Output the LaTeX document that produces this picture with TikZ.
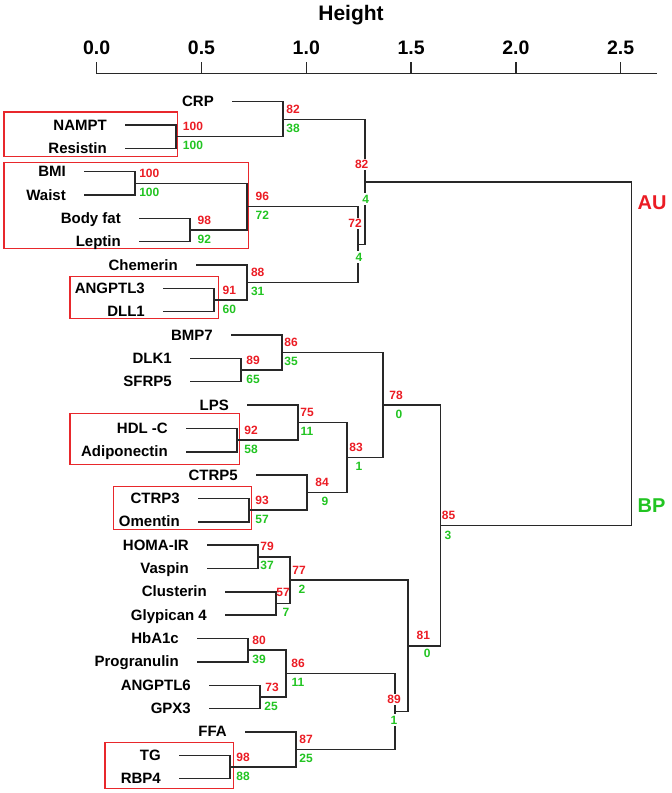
\documentclass[tikz,border=0pt]{standalone}
\usepackage{fontspec}
\setmainfont{Liberation Sans}
\definecolor{lred}{RGB}{235,28,36}
\definecolor{lgreen}{RGB}{34,196,34}
\definecolor{boxred}{RGB}{232,40,44}
\definecolor{linec}{RGB}{40,40,40}
\newcommand\dleaf[4]{%
  \coordinate (#1) at ({#4-50},#3);
  \node[leaflab] (#1t) at ({#4-69},{#3+5}) {#2};
}
\begin{document}
\begin{tikzpicture}[x=1pt,y=-1pt,
  tree/.style={draw=linec, line width=1.4pt, line cap=rect},
  leaflab/.style={anchor=base east, inner sep=0pt, font=\fontsize{15}{18}\selectfont\bfseries},
  aulab/.style={text=lred, inner sep=0pt, font=\fontsize{12}{14}\selectfont\bfseries},
  bplab/.style={text=lgreen, inner sep=0pt, font=\fontsize{12}{14}\selectfont\bfseries},
  mask/.style={fill=white, inner sep=1.5pt},
  clbox/.style={draw=boxred, line width=1.3pt},
  ticklab/.style={inner sep=0pt, font=\fontsize{19.5}{22}\selectfont\bfseries},
  grouplab/.style={inner sep=0pt, font=\fontsize{20}{24}\selectfont\bfseries}]
\useasboundingbox (0,0) rectangle (672,793);

% axis
\node[anchor=base, inner sep=0pt, font=\fontsize{21}{24}\selectfont\bfseries] (title) at (351,20) {Height};
\coordinate (ax0) at (96.7,73.3);
\coordinate (ax1) at (656,73.3);
\draw[tree] (ax0) -- (ax1);
\foreach \v/\lab [count=\i] in {0/0.0,0.5/0.5,1/1.0,1.5/1.5,2/2.0,2.5/2.5}{
  \coordinate (tk\i) at ({96.7+209.6*\v},73.3);
  \draw[tree] (tk\i) -- ++(0,-10.6);
  \node[ticklab] (tl\i) at ({96.7+209.6*\v},48) {\lab};
}

% cluster boxes
\draw[clbox] (4,112) rectangle (177.7,156.7);
\draw[clbox] (4,162.7) rectangle (248.3,248.3);
\draw[clbox] (70,276.7) rectangle (218.3,318.3);
\draw[clbox] (70,413.3) rectangle (239.3,464.3);
\draw[clbox] (113.3,486.7) rectangle (251.7,529.3);
\draw[clbox] (105,742.7) rectangle (233.3,788.3);

% merge points
\coordinate (m1) at (176,136.71);
\coordinate (m2) at (283,119.2);
\coordinate (m3) at (135,183.39);
\coordinate (m4) at (190,230.07);
\coordinate (m5) at (247,206.73);
\coordinate (m6) at (214,300.09);
\coordinate (m7) at (247,282.59);
\coordinate (m8) at (358,244.66);
\coordinate (m9) at (365,181.93);
\coordinate (m10) at (241,370.11);
\coordinate (m11) at (282,352.6);
\coordinate (m12) at (237,440.13);
\coordinate (m13) at (298,422.63);
\coordinate (m14) at (249,510.15);
\coordinate (m15) at (307,492.65);
\coordinate (m16) at (347,457.64);
\coordinate (m17) at (383,405.12);
\coordinate (m18) at (258,556.83);
\coordinate (m19) at (276,603.51);
\coordinate (m20) at (290,580.17);
\coordinate (m21) at (248,650.19);
\coordinate (m22) at (260,696.87);
\coordinate (m23) at (286,673.53);
\coordinate (m24) at (230,766.89);
\coordinate (m25) at (296,749.39);
\coordinate (m26) at (395,711.46);
\coordinate (m27) at (408,645.82);
\coordinate (m28) at (440.5,525.47);
\coordinate (m29) at (631.5,353.7);

% leaves
\dleaf{CRP}{CRP}{101.7}{283}
\dleaf{NAMPT}{NAMPT}{125.04}{176}
\dleaf{Resistin}{Resistin}{148.38}{176}
\dleaf{BMI}{BMI}{171.72}{135}
\dleaf{Waist}{Waist}{195.06}{135}
\dleaf{Bodyfat}{Body fat}{218.40}{190}
\dleaf{Leptin}{Leptin}{241.74}{190}
\dleaf{Chemerin}{Chemerin}{265.08}{247}
\dleaf{ANGPTLc}{ANGPTL3}{288.42}{214}
\dleaf{DLLa}{DLL1}{311.76}{214}
\dleaf{BMPg}{BMP7}{335.10}{282}
\dleaf{DLKa}{DLK1}{358.44}{241}
\dleaf{SFRPe}{SFRP5}{381.78}{241}
\dleaf{LPS}{LPS}{405.12}{298}
\dleaf{HDLC}{HDL -C}{428.46}{237}
\dleaf{Adipo}{Adiponectin}{451.80}{237}
\dleaf{CTRPe}{CTRP5}{475.14}{307}
\dleaf{CTRPc}{CTRP3}{498.48}{249}
\dleaf{Omentin}{Omentin}{521.82}{249}
\dleaf{HOMA}{HOMA-IR}{545.16}{258}
\dleaf{Vaspin}{Vaspin}{568.50}{258}
\dleaf{Clusterin}{Clusterin}{591.84}{276}
\dleaf{Glypican}{Glypican 4}{615.18}{276}
\dleaf{HbAc}{HbA1c}{638.52}{248}
\dleaf{Progranulin}{Progranulin}{661.86}{248}
\dleaf{ANGPTLf}{ANGPTL6}{685.20}{260}
\dleaf{GPXc}{GPX3}{708.54}{260}
\dleaf{FFA}{FFA}{731.88}{296}
\dleaf{TG}{TG}{755.22}{230}
\dleaf{RBPd}{RBP4}{778.56}{230}

% connectors
\draw[tree] (NAMPT) -| (m1); \draw[tree] (Resistin) -| (m1);
\draw[tree] (CRP) -| (m2); \draw[tree] (m1) -| (m2);
\draw[tree] (BMI) -| (m3); \draw[tree] (Waist) -| (m3);
\draw[tree] (Bodyfat) -| (m4); \draw[tree] (Leptin) -| (m4);
\draw[tree] (m3) -| (m5); \draw[tree] (m4) -| (m5);
\draw[tree] (ANGPTLc) -| (m6); \draw[tree] (DLLa) -| (m6);
\draw[tree] (Chemerin) -| (m7); \draw[tree] (m6) -| (m7);
\draw[tree] (m5) -| (m8); \draw[tree] (m7) -| (m8);
\draw[tree] (m2) -| (m9); \draw[tree] (m8) -| (m9);
\draw[tree] (DLKa) -| (m10); \draw[tree] (SFRPe) -| (m10);
\draw[tree] (BMPg) -| (m11); \draw[tree] (m10) -| (m11);
\draw[tree] (HDLC) -| (m12); \draw[tree] (Adipo) -| (m12);
\draw[tree] (LPS) -| (m13); \draw[tree] (m12) -| (m13);
\draw[tree] (CTRPc) -| (m14); \draw[tree] (Omentin) -| (m14);
\draw[tree] (CTRPe) -| (m15); \draw[tree] (m14) -| (m15);
\draw[tree] (m13) -| (m16); \draw[tree] (m15) -| (m16);
\draw[tree] (m11) -| (m17); \draw[tree] (m16) -| (m17);
\draw[tree] (HOMA) -| (m18); \draw[tree] (Vaspin) -| (m18);
\draw[tree] (Clusterin) -| (m19); \draw[tree] (Glypican) -| (m19);
\draw[tree] (m18) -| (m20); \draw[tree] (m19) -| (m20);
\draw[tree] (HbAc) -| (m21); \draw[tree] (Progranulin) -| (m21);
\draw[tree] (ANGPTLf) -| (m22); \draw[tree] (GPXc) -| (m22);
\draw[tree] (m21) -| (m23); \draw[tree] (m22) -| (m23);
\draw[tree] (TG) -| (m24); \draw[tree] (RBPd) -| (m24);
\draw[tree] (FFA) -| (m25); \draw[tree] (m24) -| (m25);
\draw[tree] (m23) -| (m26); \draw[tree] (m25) -| (m26);
\draw[tree] (m20) -| (m27); \draw[tree] (m26) -| (m27);
\draw[tree] (m17) -| (m28); \draw[tree] (m27) -| (m28);
\draw[tree] (m9) -| (m29); \draw[tree] (m28) -| (m29);

% support values
\node[aulab] (r1) at (193,126.7) {100};   \node[bplab] (g1) at (193,145.7) {100};
\node[aulab] (r2) at (293,109.2) {82};    \node[bplab] (g2) at (293,128.2) {38};
\node[aulab] (r3) at (149.3,173.4) {100}; \node[bplab] (g3) at (149.3,192.4) {100};
\node[aulab] (r4) at (204.3,220.1) {98};  \node[bplab] (g4) at (204.3,239.1) {92};
\node[aulab] (r5) at (262.3,196.7) {96};  \node[bplab] (g5) at (262.3,215.7) {72};
\node[aulab] (r6) at (229.3,290.1) {91};  \node[bplab] (g6) at (229.3,309.1) {60};
\node[aulab] (r7) at (257.7,272.6) {88};  \node[bplab] (g7) at (257.7,291.6) {31};
\node[aulab,mask] (r8) at (355,223.3) {72}; \node[bplab,mask] (g8) at (359,257) {4};
\node[aulab,mask] (r9) at (361.7,164.3) {82}; \node[bplab,mask] (g9) at (365.7,199) {4};
\node[aulab] (r10) at (253,360.1) {89};   \node[bplab] (g10) at (253,379.1) {65};
\node[aulab] (r11) at (291,342.6) {86};   \node[bplab] (g11) at (291,361.6) {35};
\node[aulab] (r12) at (251,430.1) {92};   \node[bplab] (g12) at (251,449.1) {58};
\node[aulab] (r13) at (307,412.6) {75};   \node[bplab] (g13) at (307,431.6) {11};
\node[aulab] (r14) at (262,500.2) {93};   \node[bplab] (g14) at (262,519.2) {57};
\node[aulab] (r15) at (322,482.7) {84};   \node[bplab] (g15) at (325,501.7) {9};
\node[aulab] (r16) at (356,447.6) {83};   \node[bplab] (g16) at (359,466.6) {1};
\node[aulab] (r17) at (396,395.1) {78};   \node[bplab] (g17) at (399,414.1) {0};
\node[aulab] (r18) at (267,546.8) {79};   \node[bplab] (g18) at (267,565.8) {37};
\node[aulab] (r19) at (283,592.5) {57};   \node[bplab] (g19) at (286,612.5) {7};
\node[aulab] (r20) at (299,570.2) {77};   \node[bplab] (g20) at (302,589.2) {2};
\node[aulab] (r21) at (259,640.2) {80};   \node[bplab] (g21) at (259,659.2) {39};
\node[aulab] (r22) at (272,686.9) {73};   \node[bplab] (g22) at (271,705.9) {25};
\node[aulab] (r23) at (298,663.5) {86};   \node[bplab] (g23) at (298,682.5) {11};
\node[aulab] (r24) at (243,756.9) {98};   \node[bplab] (g24) at (243,775.9) {88};
\node[aulab] (r25) at (306,739.4) {87};   \node[bplab] (g25) at (306,758.4) {25};
\node[aulab,mask] (r26) at (394,699.3) {89}; \node[bplab,mask] (g26) at (394,720) {1};
\node[aulab] (r27) at (423.3,635) {81};   \node[bplab] (g27) at (427.3,653.3) {0};
\node[aulab] (r28) at (448.5,515) {85};   \node[bplab] (g28) at (448,535) {3};

% group labels
\node[grouplab, text=lred] (AU) at (652,202.3) {AU};
\node[grouplab, text=lgreen] (BP) at (651.5,506) {BP};
\end{tikzpicture}
\end{document}
